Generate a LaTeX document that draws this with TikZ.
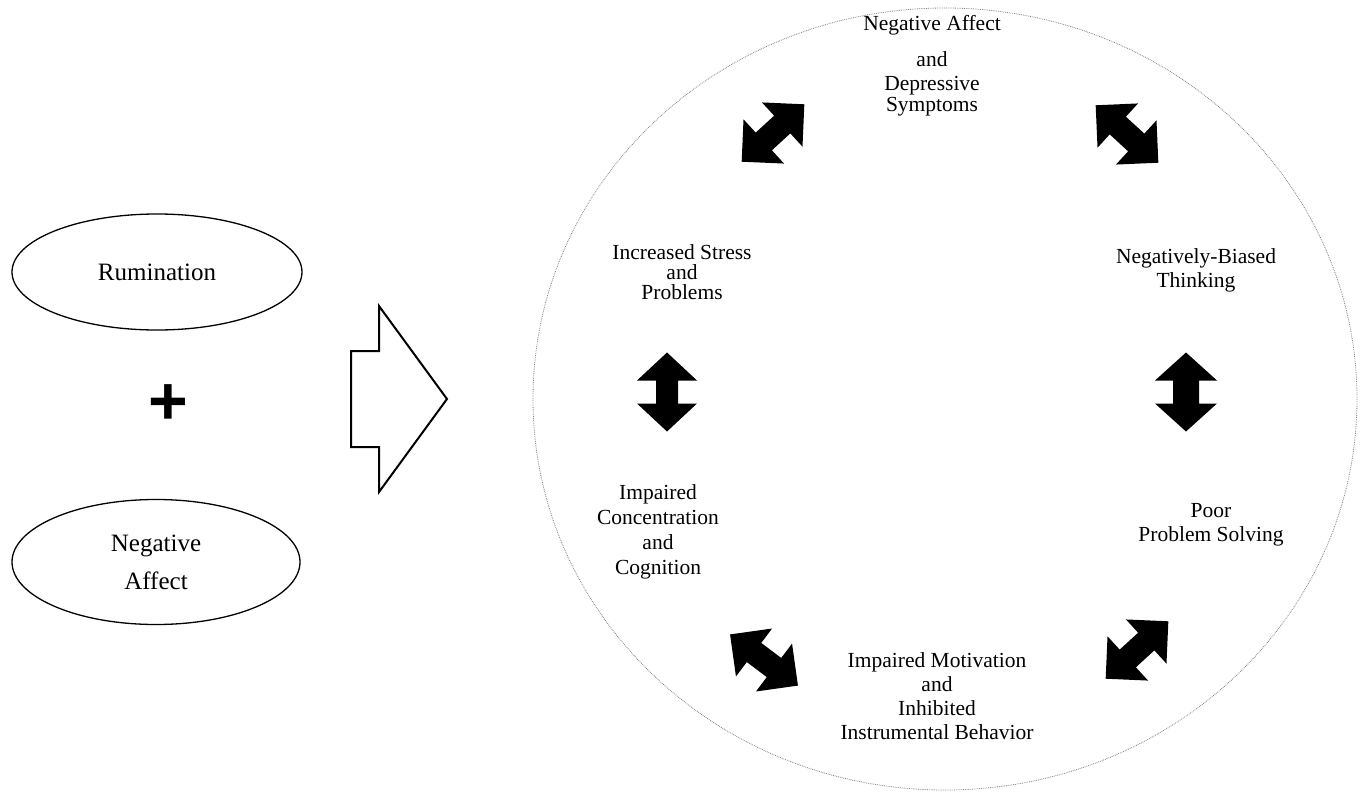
\documentclass[tikz,border=0pt]{standalone}
\usepackage{fontspec}
\setmainfont{Liberation Serif}
\newfontfamily\plusfont{Liberation Sans}
\tikzset{
  lbl/.style={align=center, inner sep=0pt, font=\fontsize{21.5}{24}\selectfont},
  big/.style={align=center, inner sep=0pt, font=\fontsize{25}{38}\selectfont},
  oval/.style={draw=black, line width=1.3pt, ellipse},
  blk/.style={fill=black, draw=none},
}
\usetikzlibrary{shapes.geometric}
% \dblarr{cx}{cy}{angle}{length}{head length}{head half width}{shaft half width}
\newcommand\dblarr[7]{%
  \begin{scope}[shift={(#1,#2)}, rotate=#3]
    \fill[blk] (-#4/2,0) -- (-#4/2+#5,#6) -- (-#4/2+#5,#7) -- (#4/2-#5,#7) -- (#4/2-#5,#6)
      -- (#4/2,0) -- (#4/2-#5,-#6) -- (#4/2-#5,-#7) -- (-#4/2+#5,-#7) -- (-#4/2+#5,-#6) -- cycle;
  \end{scope}}
\begin{document}
\begin{tikzpicture}[x=1pt,y=-1pt]
\useasboundingbox (0,0) rectangle (1364,795);
% big circle
\draw[gray, densely dotted, line width=0.8pt] (945,399) ellipse [x radius=412, y radius=391];
% left ovals
\node[oval, minimum width=290pt, minimum height=116pt] (rum) at (157,272) {};
\node[big] (rumt) at (rum.center) {Rumination};
\node[oval, minimum width=288pt, minimum height=125pt] (na) at (156,562) {};
\node[big] (nat) at (na.center) {Negative\\Affect};
\node[font=\plusfont\bfseries\fontsize{68}{68}\selectfont, inner sep=0pt] (plus) at (168,405) {+};
% hollow block arrow
\draw[line width=2pt, line join=miter] (351,351) -- (379,351) -- (379,306) -- (447,399) -- (379,492) -- (379,447) -- (351,447) -- cycle;
% cycle labels
\node[lbl] (t1) at (932,66) {Negative Affect\\[12pt]and\\Depressive\\[-3pt]Symptoms};
\node[lbl] (t2) at (1196,270) {Negatively-Biased\\Thinking};
\node[lbl, font=\fontsize{21.5}{20}\selectfont] (t6) at (682,272) {Increased Stress\\and\\Problems};
\node[lbl] (t3) at (1211,525) {Poor\\Problem Solving};
\node[lbl, font=\fontsize{21.5}{25}\selectfont] (t5) at (658,532) {Impaired\\Concentration\\and\\Cognition};
\node[lbl] (t4) at (937,696) {Impaired Motivation\\and\\Inhibited\\Instrumental Behavior};
% double arrows
\dblarr{667}{392}{90}{79}{28}{30}{11}
\dblarr{1186}{392}{90}{79}{28}{31}{13}
\dblarr{773}{133}{42.5}{85}{30}{30}{12}
\dblarr{1127}{134}{-42.5}{85}{30}{30}{12}
\dblarr{764}{660}{-37}{85}{30}{30}{12}
\dblarr{1137}{650}{42.5}{85}{30}{30}{12}
\end{tikzpicture}
\end{document}
